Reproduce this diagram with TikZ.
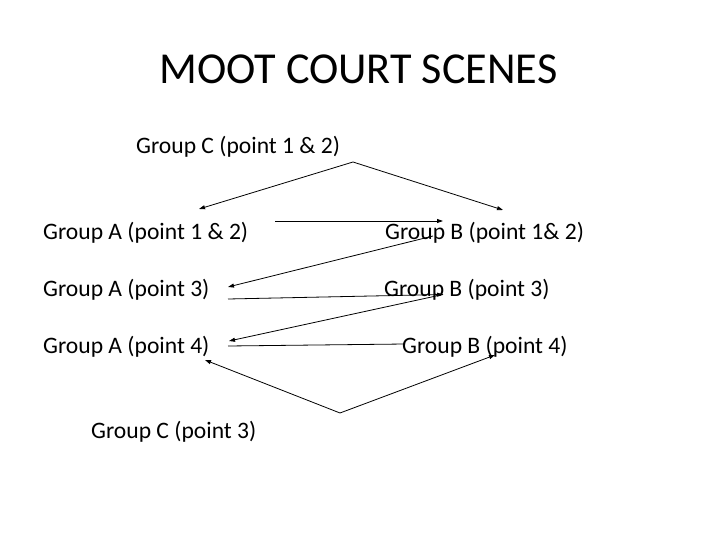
\documentclass[tikz,border=0pt]{standalone}
\usepackage{fontspec}
\setmainfont{Carlito}
\usetikzlibrary{arrows.meta}
\begin{document}
\begin{tikzpicture}[x=1pt,y=-1pt,
  lbl/.style={anchor=base west,inner sep=0pt,font=\fontsize{23.6}{28}\selectfont},
  conn/.style={line width=0.8pt,-{Triangle[length=6pt,width=4pt]}},
  plain/.style={line width=0.8pt}]
\useasboundingbox[fill=white] (0,0) rectangle (720,540);
\node[anchor=base,inner sep=0pt,font=\fontsize{44.2}{50}\selectfont] (title) at (358.5,83.5) {MOOT COURT SCENES};
\node[lbl] (c12) at (136,154) {Group C (point 1 \& 2)};
\node[lbl] (a12) at (43,240) {Group A (point 1 \& 2)};
\node[lbl] (b12) at (385,240) {Group B (point 1\& 2)};
\node[lbl] (a3) at (43,296.5) {Group A (point 3)};
\node[lbl] (b3) at (384,296.5) {Group B (point 3)};
\node[lbl] (a4) at (43,353) {Group A (point 4)};
\node[lbl] (b4) at (402,353) {Group B (point 4)};
\node[lbl] (c3) at (91,438) {Group C (point 3)};
% connector end points
\coordinate (capex) at (353,162);
\coordinate (a12in) at (199,209);
\coordinate (b12in) at (503,210);
\coordinate (a12out) at (275,221);
\coordinate (b12pt) at (443,221);
\coordinate (b12out) at (433,236);
\coordinate (a3in) at (228,287);
\coordinate (a3out) at (228,299);
\coordinate (b3pt) at (443,294.5);
\coordinate (a4in) at (229,341);
\coordinate (a4out) at (228,346);
\coordinate (b4pt) at (405,344);
\coordinate (c3apex) at (340,413);
\coordinate (a4low) at (205,360);
\coordinate (b4low) at (495,355);
\draw[conn] (capex) -- (a12in);
\draw[conn] (capex) -- (b12in);
\draw[conn] (a12out) -- (b12pt);
\draw[conn] (b12out) -- (a3in);
\draw[conn] (a3out) -- (b3pt);
\draw[conn] (b3pt) -- (a4in);
\draw[plain] (a4out) -- (b4pt);
\draw[conn] (c3apex) -- (a4low);
\draw[conn] (c3apex) -- (b4low);
\end{tikzpicture}
\end{document}
